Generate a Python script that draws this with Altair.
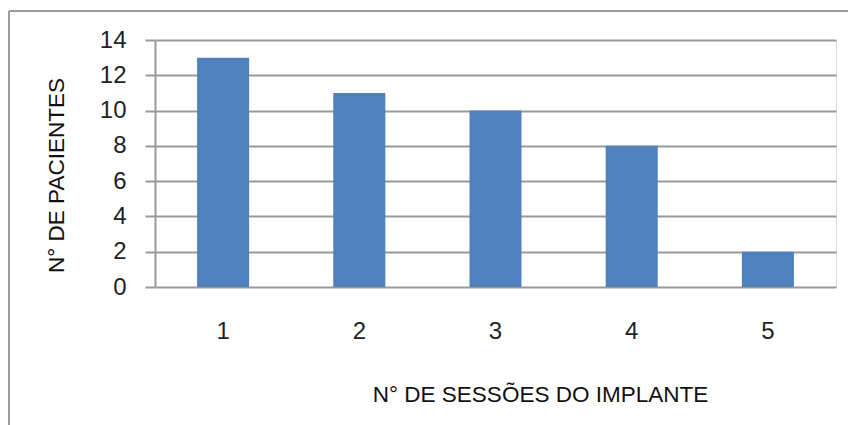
import altair as alt
import pandas as pd

sessoes = ["1", "2", "3", "4", "5"]
pacientes = [13, 11, 10, 8, 2]

df = pd.DataFrame({"sessoes": sessoes, "pacientes": pacientes})

W, H = 681, 247
LEFT, TOP = 155, 40
FONT = "Liberation Sans"

bars = alt.Chart(df).mark_bar(color="#4F81BD").encode(
    x=alt.X(
        "sessoes:N",
        sort=sessoes,
        scale=alt.Scale(paddingInner=0.618, paddingOuter=0.309),
        axis=alt.Axis(
            title="N° DE SESSÕES DO IMPLANTE",
            labelAngle=0,
            labelFont=FONT,
            labelFontSize=24,
            labelColor="#222222",
            labelPadding=32,
            ticks=False,
            domain=False,
            titleFont=FONT,
            titleFontSize=22.5,
            titleFontWeight="normal",
            titleColor="#111111",
            titleX=385,
            titleY=107,
            titleAnchor="start",
            titleAlign="center",
            titleBaseline="middle",
        ),
    ),
    y=alt.Y(
        "pacientes:Q",
        scale=alt.Scale(domain=[0, 14], nice=False),
        axis=alt.Axis(
            title="N° DE PACIENTES",
            values=[0, 2, 4, 6, 8, 10, 12, 14],
            labelFont=FONT,
            labelFontSize=24,
            labelColor="#222222",
            labelPadding=19,
            tickSize=10,
            tickColor="#999999",
            tickWidth=2,
            domainColor="#999999",
            domainWidth=2,
            grid=True,
            gridColor="#999999",
            gridWidth=2,
            titleFont=FONT,
            titleFontSize=22.5,
            titleFontWeight="normal",
            titleColor="#111111",
            titleAngle=-90,
            titleX=-99,
            titleY=135,
            titleAlign="center",
            titleBaseline="middle",
        ),
    ),
)

border_v = alt.Chart(df).mark_rule(color="#9a9a9a", strokeWidth=2).encode(
    x=alt.value(9 - LEFT), y=alt.value(11 - TOP), y2=alt.value(440 - TOP)
)
border_h = alt.Chart(df).mark_rule(color="#9a9a9a", strokeWidth=2).encode(
    y=alt.value(11 - TOP), x=alt.value(9 - LEFT), x2=alt.value(860 - LEFT)
)

chart = (
    alt.layer(bars, border_v, border_h)
    .properties(
        width=W,
        height=H,
        autosize=alt.AutoSizeParams(type="none"),
        padding={"left": LEFT, "top": TOP, "right": 848 - LEFT - W, "bottom": 425 - TOP - H},
    )
    .configure_view(stroke=None)
    .configure(background="white")
)

chart.save("out.html", embed_options={"renderer": "svg", "actions": False})
